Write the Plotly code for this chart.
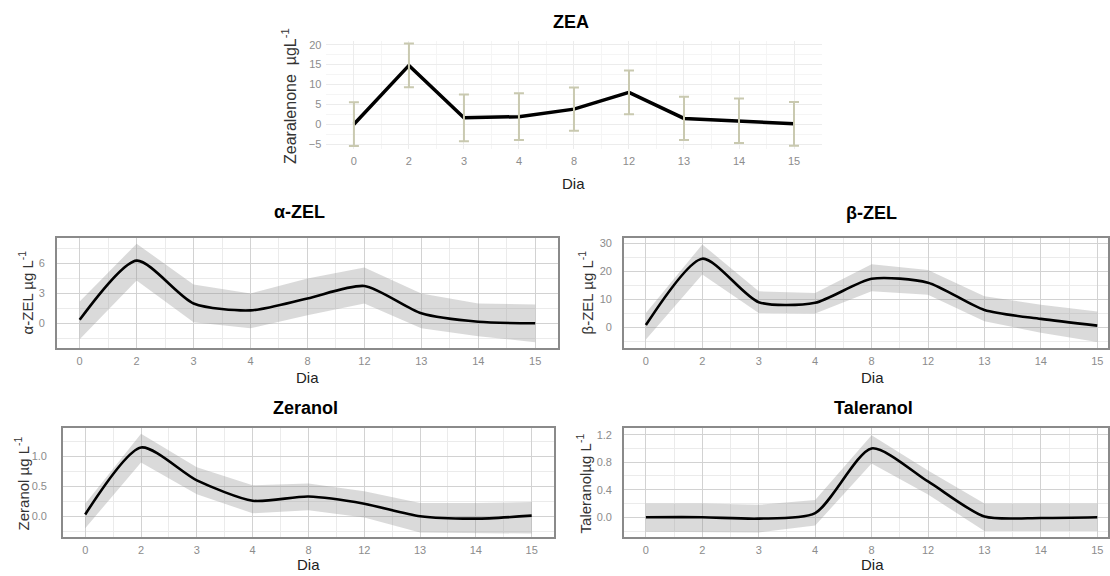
import plotly.graph_objects as go

W, H = 1110, 576

days = ["0", "2", "3", "4", "8", "12", "13", "14", "15"]

# ZEA (mean and error)
zea_mean = [0.0, 14.8, 1.6, 1.9, 3.8, 8.0, 1.45, 0.85, 0.1]
zea_err = [5.5, 5.5, 5.9, 5.9, 5.45, 5.5, 5.45, 5.6, 5.5]

# alpha-ZEL
azel_mean = [0.35, 6.3, 2.0, 1.3, 2.5, 3.75, 1.0, 0.15, 0.0]
azel_up = [2.2, 8.0, 3.9, 3.0, 4.5, 5.6, 3.0, 2.0, 1.9]
azel_lo = [-1.6, 4.3, 0.1, -0.5, 0.8, 2.0, -0.5, -1.3, -1.9]

# beta-ZEL
bzel_mean = [0.8, 24.6, 9.0, 8.8, 17.4, 16.0, 6.2, 3.0, 0.6]
bzel_up = [5.1, 29.7, 12.9, 12.3, 22.6, 20.5, 11.1, 8.1, 5.7]
bzel_lo = [-4.4, 18.9, 5.1, 4.9, 12.9, 11.7, 2.2, -2.0, -5.3]

# Zeranol
zer_mean = [0.03, 1.15, 0.6, 0.26, 0.33, 0.21, 0.0, -0.04, 0.01]
zer_up = [0.21, 1.38, 0.82, 0.52, 0.55, 0.42, 0.22, 0.22, 0.24]
zer_lo = [-0.2, 0.9, 0.37, 0.05, 0.1, -0.02, -0.27, -0.28, -0.29]

# Taleranol
tal_mean = [0.0, 0.0, -0.02, 0.06, 1.0, 0.52, 0.01, -0.01, 0.0]
tal_up = [0.2, 0.2, 0.18, 0.25, 1.19, 0.68, 0.2, 0.2, 0.2]
tal_lo = [-0.21, -0.21, -0.22, -0.12, 0.78, 0.33, -0.2, -0.2, -0.2]

xs = list(range(len(days)))

FONT = "Liberation Sans, Arial, sans-serif"
TICKC = "#8c8c8c"


def px(x):
    return x / W


def py(y):
    return 1 - y / H


fig = go.Figure()

# ---- ZEA panel ----
fig.add_trace(go.Scatter(x=xs, y=zea_mean, mode="lines", line=dict(color="black", width=3.5),
                         xaxis="x", yaxis="y", showlegend=False, hoverinfo="skip"))
fig.add_trace(go.Scatter(x=xs, y=zea_mean, mode="markers", marker=dict(color="rgba(0,0,0,0)", size=1),
                         error_y=dict(type="data", array=zea_err, color="#c9c9b0", thickness=2, width=5),
                         xaxis="x", yaxis="y", showlegend=False, hoverinfo="skip"))

panels = [
    ("x2", "y2", azel_mean, azel_up, azel_lo),
    ("x3", "y3", bzel_mean, bzel_up, bzel_lo),
    ("x4", "y4", zer_mean, zer_up, zer_lo),
    ("x5", "y5", tal_mean, tal_up, tal_lo),
]
for xa, ya, m, up, lo in panels:
    fig.add_trace(go.Scatter(x=xs, y=lo, mode="lines", line=dict(width=0, color="rgba(0,0,0,0)"),
                             xaxis=xa, yaxis=ya, showlegend=False, hoverinfo="skip"))
    fig.add_trace(go.Scatter(x=xs, y=up, mode="lines", line=dict(width=0, color="rgba(0,0,0,0)"),
                             fill="tonexty", fillcolor="rgba(150,150,150,0.35)",
                             xaxis=xa, yaxis=ya, showlegend=False, hoverinfo="skip"))
    fig.add_trace(go.Scatter(x=xs, y=m, mode="lines", line=dict(color="black", width=2.6, shape="spline", smoothing=0.7),
                             xaxis=xa, yaxis=ya, showlegend=False, hoverinfo="skip"))


def xaxis_cfg(dom, rng, anchor, boxed, grid, minor_grid, standoff):
    d = dict(domain=dom, range=rng, anchor=anchor, tickmode="array", tickvals=xs, ticktext=days,
             showgrid=True, gridcolor=grid, gridwidth=1, zeroline=False,
             tickfont=dict(family=FONT, size=11, color=TICKC), ticks="", ticklabelstandoff=standoff,
             minor=dict(tickmode="linear", tick0=0.5, dtick=1, showgrid=True, gridcolor=minor_grid, gridwidth=1),
             fixedrange=True)
    if boxed:
        d.update(showline=True, linecolor="#8a8a8a", linewidth=1.5, mirror=True)
    else:
        d.update(showline=False)
    return d


def yaxis_cfg(dom, rng, anchor, dtick, fmt, boxed, grid, minor_grid, standoff):
    d = dict(domain=dom, range=rng, anchor=anchor, tick0=0, dtick=dtick, tickformat=fmt,
             showgrid=True, gridcolor=grid, gridwidth=1, zeroline=False,
             tickfont=dict(family=FONT, size=11, color=TICKC), ticks="", ticklabelstandoff=standoff,
             minor=dict(tickmode="linear", tick0=dtick / 2, dtick=dtick, showgrid=True, gridcolor=minor_grid, gridwidth=1),
             fixedrange=True)
    if boxed:
        d.update(showline=True, linecolor="#8a8a8a", linewidth=1.5, mirror=True)
    else:
        d.update(showline=False)
    return d


G_MAJ, G_MIN = "#d2d2d2", "#ebebeb"
Z_MAJ, Z_MIN = "#ececec", "#f5f5f5"

fig.update_layout(
    width=W, height=H, autosize=False,
    margin=dict(l=0, r=0, t=0, b=0),
    paper_bgcolor="white", plot_bgcolor="white",
    xaxis=xaxis_cfg([px(327), px(823)], [-0.5, 8.5], "y", False, Z_MAJ, Z_MIN, 4),
    yaxis=yaxis_cfg([py(148), py(39)], [-6.3, 21.0], "x", 5, "d", False, Z_MAJ, Z_MIN, 4),
    xaxis2=xaxis_cfg([px(57), px(559)], [-0.4, 8.4], "y2", True, G_MAJ, G_MIN, 2),
    yaxis2=yaxis_cfg([py(348), py(237)], [-2.5, 8.6], "x2", 3, "d", True, G_MAJ, G_MIN, 8),
    xaxis3=xaxis_cfg([px(625), 1.0], [-0.39, 8.19], "y3", True, G_MAJ, G_MIN, 2),
    yaxis3=yaxis_cfg([py(348), py(237)], [-7.5, 32.1], "x3", 10, "d", True, G_MAJ, G_MIN, 8),
    xaxis4=xaxis_cfg([px(63), px(555)], [-0.4, 8.4], "y4", True, G_MAJ, G_MIN, 2),
    yaxis4=yaxis_cfg([py(538), py(428)], [-0.35, 1.48], "x4", 0.5, ".1f", True, G_MAJ, G_MIN, 12),
    xaxis5=xaxis_cfg([px(625), 1.0], [-0.39, 8.19], "y5", True, G_MAJ, G_MIN, 2),
    yaxis5=yaxis_cfg([py(538), py(428)], [-0.29, 1.3], "x5", 0.4, ".1f", True, G_MAJ, G_MIN, 8),
)

anns = []
# Panel titles
for txt, x, y in [("ZEA", 572, 20), ("α-ZEL", 300, 211), ("β-ZEL", 873, 212),
                  ("Zeranol", 306, 408), ("Taleranol", 875, 408)]:
    anns.append(dict(text="<b>%s</b>" % txt, x=px(x), y=py(y), xref="paper", yref="paper",
                     xanchor="center", yanchor="middle", showarrow=False,
                     font=dict(family=FONT, size=18, color="black")))
# X titles
for x, y in [(575, 182), (308, 377), (874, 377), (309, 565), (874, 565)]:
    anns.append(dict(text="Dia", x=px(x), y=py(y), xref="paper", yref="paper",
                     xanchor="center", yanchor="middle", showarrow=False,
                     font=dict(family=FONT, size=15, color="#222222")))
# Y titles
for txt, x, y, fs in [("Zearalenone  µgL<sup>-1</sup>", 289, 94, 16),
                      ("α-ZEL µg L<sup>-1</sup>", 26, 292, 15),
                      ("β-ZEL µg L<sup>-1</sup>", 587, 292, 15),
                      ("Zeranol µg L<sup>-1</sup>", 22, 484, 15),
                      ("Taleranolµg L<sup>-1</sup>", 585, 484, 15)]:
    anns.append(dict(text=txt, x=px(x), y=py(y), xref="paper", yref="paper",
                     xanchor="center", yanchor="middle", showarrow=False, textangle=-90,
                     font=dict(family=FONT, size=fs, color="#333333")))
fig.update_layout(annotations=anns)

fig.write_html("out.html", config={"displayModeBar": False},
               post_script="document.body.style.margin='0px';document.body.style.overflow='hidden';")
